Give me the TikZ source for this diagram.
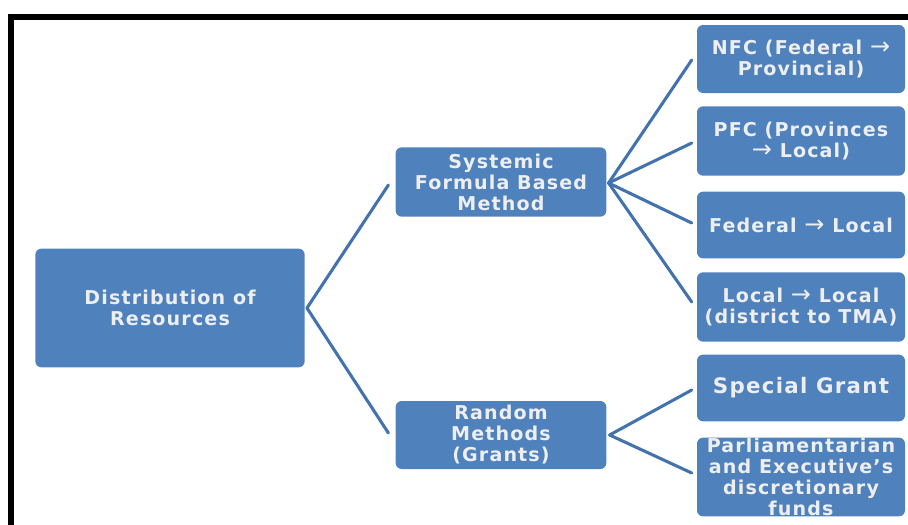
\documentclass[tikz,border=0pt]{standalone}
\usepackage{fontspec}
\setmainfont{DejaVu Sans}[BoldFont={DejaVu Sans Bold}]
\newfontfamily\boxfont{DejaVu Sans Bold}[LetterSpace=6]
\newfontfamily\arrfont{DejaVu Sans}
\newcommand{\bigarr}{{\arrfont\fontsize{18}{15}\selectfont →}}
\usetikzlibrary{calc}
\definecolor{boxblue}{HTML}{4F81BD}
\definecolor{linkblue}{HTML}{4373AE}
\definecolor{boxtext}{HTML}{EEEEEE}
\begin{document}
\begin{tikzpicture}[x=0.75pt,y=-0.75pt,
  bluebox/.style={draw=none,fill=boxblue,rounded corners=4.5pt,inner sep=0pt,
    align=center,text=boxtext,font=\boxfont\fontsize{14.3}{15.75}\selectfont},
  link/.style={draw=linkblue,line width=2.3pt,line cap=round}]
\useasboundingbox (0,0) rectangle (908,525);
% frame
\draw[line width=4.5pt,black] (11,528) -- (11,17) -- (912,17);
% nodes
\node[bluebox,minimum width=202pt,minimum height=89pt] (d) at (170,308) {Distribution of\\Resources};
\node[bluebox,minimum width=158pt,minimum height=52pt] (s) at (501,182) {Systemic\\Formula Based\\Method};
\node[bluebox,minimum width=158pt,minimum height=51pt] (r) at (501,435) {Random\\Methods\\(Grants)};
\node[bluebox,minimum width=156pt,minimum height=51pt] (c1) at (801,59) {NFC (Federal \bigarr\\Provincial)};
\node[bluebox,minimum width=156pt,minimum height=52pt] (c2) at (801,141) {PFC (Provinces\\\bigarr\ Local)};
\node[bluebox,minimum width=156pt,minimum height=50pt] (c3) at (801,225) {Federal \bigarr\ Local};
\node[bluebox,minimum width=156pt,minimum height=52pt] (c4) at (801,307) {Local \bigarr\ Local\\(district to TMA)};
\node[bluebox,minimum width=156pt,minimum height=50pt,font=\boxfont\fontsize{16}{18}\selectfont] (c5) at (801,388) {Special Grant};
\node[bluebox,minimum width=156pt,minimum height=59pt] (c6) at (801,477) {Parliamentarian\\and Executive’s\\discretionary\\funds};
% connectors
\coordinate (dj) at ($(d.east)+(2,0)$);
\coordinate (sj) at ($(s.east)+(2,1)$);
\coordinate (rj) at ($(r.east)+(3,0)$);
\draw[link] (dj) -- ($(s.west)+(-7,3)$);
\draw[link] (dj) -- ($(r.west)+(-7,-2)$);
\draw[link] (sj) -- ($(c1.west)+(-5,1)$);
\draw[link] (sj) -- ($(c2.west)+(-5,2)$);
\draw[link] (sj) -- ($(c3.west)+(-5,-2)$);
\draw[link] (sj) -- ($(c4.west)+(-5,-5)$);
\draw[link] (rj) -- ($(c5.west)+(-5,2)$);
\draw[link] (rj) -- ($(c6.west)+(-5,-4)$);
\end{tikzpicture}
\end{document}
